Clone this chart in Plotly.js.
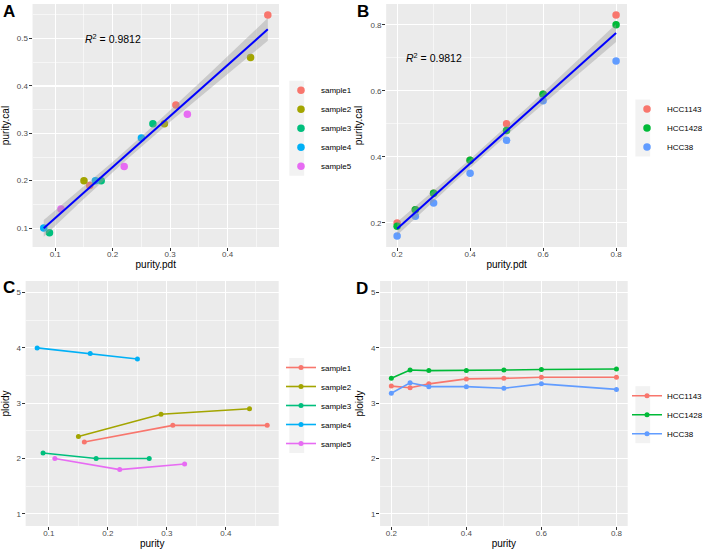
<!DOCTYPE html>
<html>
<head>
<meta charset="utf-8">
<script src="https://cdn.plot.ly/plotly-3.0.1.min.js"></script>
<style>html,body{margin:0;padding:0;background:#fff;}#chart{width:708px;height:550px;}</style>
</head>
<body>
<div id="chart"></div>
<script>
// ---------- Panel A / C data (samples) ----------
var sampleNames = ["sample1", "sample2", "sample3", "sample4", "sample5"];
var samplePurityPdt = [
  [0.16, 0.31, 0.47],
  [0.15, 0.29, 0.44],
  [0.09, 0.18, 0.27],
  [0.08, 0.17, 0.25],
  [0.11, 0.22, 0.33]
];
var samplePurityCal = [
  [0.19, 0.36, 0.55],
  [0.20, 0.32, 0.46],
  [0.09, 0.20, 0.32],
  [0.10, 0.20, 0.29],
  [0.14, 0.23, 0.34]
];
var samplePloidy = [
  [2.3, 2.6, 2.6],
  [2.4, 2.8, 2.9],
  [2.1, 2.0, 2.0],
  [4.0, 3.9, 3.8],
  [2.0, 1.8, 1.9]
];
var sampleColors = ["#F8766D", "#A3A500", "#00BF7D", "#00B0F6", "#E76BF3"];

// ---------- Panel B / D data (cell lines) ----------
var cellNames = ["HCC1143", "HCC1428", "HCC38"];
var cellPurityPdt = [0.2, 0.25, 0.3, 0.4, 0.5, 0.6, 0.8];
var cellPurityCal = [
  [0.20, 0.24, 0.29, 0.39, 0.50, 0.59, 0.83],
  [0.19, 0.24, 0.29, 0.39, 0.48, 0.59, 0.80],
  [0.16, 0.22, 0.26, 0.35, 0.45, 0.57, 0.69]
];
var cellPloidy = [
  [3.31, 3.28, 3.35, 3.44, 3.45, 3.47, 3.47],
  [3.45, 3.60, 3.59, 3.59, 3.60, 3.61, 3.62],
  [3.18, 3.37, 3.30, 3.30, 3.27, 3.35, 3.25]
];
var cellColors = ["#F8766D", "#00BA38", "#619CFF"];

var r2Label = "<i>R</i><sup>2</sup> = 0.9812";
var panelLabels = ["A", "B", "C", "D"];

// ---------- linear model with 95% CI (like geom_smooth(method = "lm")) ----------
function lmFit(xs, ys, tval) {
  var n = xs.length, mx = 0, my = 0;
  for (var i = 0; i < n; i++) { mx += xs[i]; my += ys[i]; }
  mx /= n; my /= n;
  var sxx = 0, sxy = 0;
  for (i = 0; i < n; i++) { sxx += (xs[i]-mx)*(xs[i]-mx); sxy += (xs[i]-mx)*(ys[i]-my); }
  var b = sxy / sxx, a = my - b * mx, sse = 0;
  for (i = 0; i < n; i++) { var r = ys[i] - (a + b*xs[i]); sse += r*r; }
  var s = Math.sqrt(sse / (n - 2));
  var xmin = Math.min.apply(null, xs), xmax = Math.max.apply(null, xs);
  var gx = [], gy = [], lo = [], hi = [];
  for (i = 0; i < 80; i++) {
    var x = xmin + (xmax - xmin) * i / 79;
    var yh = a + b * x;
    var se = s * Math.sqrt(1/n + (x-mx)*(x-mx)/sxx);
    gx.push(x); gy.push(yh); lo.push(yh - tval*se); hi.push(yh + tval*se);
  }
  return {x: gx, y: gy, lo: lo, hi: hi};
}
function flat(arr) { return [].concat.apply([], arr); }
function smoothTraces(xs, ys, tval, xa, ya) {
  var f = lmFit(xs, ys, tval);
  return [
    {x: f.x.concat(f.x.slice().reverse()), y: f.hi.concat(f.lo.slice().reverse()),
     xaxis: xa, yaxis: ya, mode: "lines", fill: "toself", fillcolor: "rgba(153,153,153,0.4)",
     line: {width: 0}, showlegend: false, hoverinfo: "skip"},
    {x: f.x, y: f.y, xaxis: xa, yaxis: ya, mode: "lines", line: {color: "#0000FF", width: 2},
     showlegend: false, hoverinfo: "skip"}
  ];
}

var traces = [];
// Panel A points
sampleNames.forEach(function(nm, i) {
  traces.push({x: samplePurityPdt[i], y: samplePurityCal[i], name: nm, xaxis: "x", yaxis: "y",
    mode: "markers", type: "scatter", marker: {color: sampleColors[i], size: 7.5}, legend: "legend"});
});
traces = traces.concat(smoothTraces(flat(samplePurityPdt), flat(samplePurityCal), 2.160, "x", "y"));
// Panel B points
cellNames.forEach(function(nm, i) {
  traces.push({x: cellPurityPdt, y: cellPurityCal[i], name: nm, xaxis: "x2", yaxis: "y2",
    mode: "markers", type: "scatter", marker: {color: cellColors[i], size: 7.5}, legend: "legend2"});
});
var bx = [], by = [];
cellNames.forEach(function(nm, i) { bx = bx.concat(cellPurityPdt); by = by.concat(cellPurityCal[i]); });
traces = traces.concat(smoothTraces(bx, by, 2.093, "x2", "y2"));
// Panel C lines
sampleNames.forEach(function(nm, i) {
  traces.push({x: samplePurityPdt[i], y: samplePloidy[i], name: nm, xaxis: "x3", yaxis: "y3",
    mode: "lines+markers", type: "scatter", line: {color: sampleColors[i], width: 1.6},
    marker: {color: sampleColors[i], size: 5}, legend: "legend3"});
});
// Panel D lines
cellNames.forEach(function(nm, i) {
  traces.push({x: cellPurityPdt, y: cellPloidy[i], name: nm, xaxis: "x4", yaxis: "y4",
    mode: "lines+markers", type: "scatter", line: {color: cellColors[i], width: 1.6},
    marker: {color: cellColors[i], size: 5}, legend: "legend4"});
});

var FONT = "Liberation Sans, Arial, sans-serif";
var tickFont = {family: FONT, size: 8, color: "#4D4D4D"};
var titleFont = {family: FONT, size: 10, color: "#000000"};
function ax(domain, range, dtick, tick0, minorDtick, title, anchor, standoff, isX) {
  return {
    domain: domain, range: range, dtick: dtick, tick0: tick0, tickmode: "linear",
    showgrid: true, gridcolor: "#FFFFFF", gridwidth: 1.1, zeroline: false, showline: false,
    ticks: "outside", ticklen: 3, tickwidth: 1, tickcolor: "#333333",
    ticklabelstandoff: isX ? -4 : -1,
    tickfont: tickFont, anchor: anchor, automargin: false,
    minor: {dtick: minorDtick, tick0: tick0, showgrid: true, gridcolor: "#FFFFFF", gridwidth: 0.55, ticks: ""},
    title: {text: title, font: titleFont, standoff: standoff}
  };
}
var legFont = {family: FONT, size: 8, color: "#000000"};
function leg(x, y) {
  return {x: x, y: y, xanchor: "left", yanchor: "middle", xref: "paper", yref: "paper",
    bgcolor: "rgba(0,0,0,0)", font: legFont, itemwidth: 30, tracegroupgap: 0};
}

var annotations = [
  {xref: "x", yref: "y", x: 0.2, y: 0.5, text: r2Label, showarrow: false,
   font: {family: FONT, size: 10.5, color: "#000"}},
  {xref: "x2", yref: "y2", x: 0.3, y: 0.7, text: r2Label, showarrow: false,
   font: {family: FONT, size: 10.5, color: "#000"}}
];
var labelPos = [[1/708, 1 - 0/550], [360/708, 1 - 0/550], [1/708, 1 - 276/550], [359/708, 1 - 277/550]];
panelLabels.forEach(function(t, i) {
  annotations.push({xref: "paper", yref: "paper", x: labelPos[i][0], y: labelPos[i][1],
    xanchor: "left", yanchor: "top", text: "<b>" + t + "</b>", showarrow: false,
    font: {family: FONT, size: 17, color: "#000"}});
});

// grey legend-key backgrounds (ggplot legend.key)
function keyBg(cx, cy, n) {
  return {type: "rect", xref: "paper", yref: "paper", layer: "below",
    x0: (cx - 7.5)/708, x1: (cx + 7.5)/708,
    y0: 1 - (cy + n*19/2)/550, y1: 1 - (cy - n*19/2)/550,
    fillcolor: "#F2F2F2", line: {width: 0}};
}

var layout = {
  width: 708, height: 550, margin: {l: 0, r: 0, t: 0, b: 0},
  paper_bgcolor: "#FFFFFF", plot_bgcolor: "#EBEBEB",
  font: {family: FONT},
  xaxis:  ax([33/708, 283/708], [0.0605, 0.4895], 0.1, 0.1, 0.05, "purity.pdt", "y", 3, true),
  yaxis:  ax([1-247/550, 1-4/550], [0.06, 0.573], 0.1, 0.1, 0.05, "purity.cal", "x", 5, false),
  xaxis2: ax([391.7/708, 636/708], [0.17, 0.83], 0.2, 0.2, 0.1, "purity.pdt", "y2", 3, true),
  yaxis2: ax([1-247/550, 1-4/550], [0.127, 0.863], 0.2, 0.2, 0.1, "purity.cal", "x2", 5, false),
  xaxis3: ax([26/708, 282.7/708], [0.0605, 0.4895], 0.1, 0.1, 0.05, "purity", "y3", 3, true),
  yaxis3: ax([1-526/550, 1-281/550], [0.78, 5.21], 1, 1, 0.5, "ploidy", "x3", 5, false),
  xaxis4: ax([385.5/708, 636.7/708], [0.17, 0.83], 0.2, 0.2, 0.1, "purity", "y4", 3, true),
  yaxis4: ax([1-526/550, 1-281/550], [0.78, 5.21], 1, 1, 0.5, "ploidy", "x4", 5, false),
  legend:  leg(285/708, 1 - 128.3/550),
  legend2: leg(636/708, 1 - 128/550),
  legend3: leg(285/708, 1 - 405.5/550),
  legend4: leg(636/708, 1 - 414.7/550),
  shapes: [keyBg(301, 128.3, 5), keyBg(652, 128, 3), keyBg(301, 405.5, 5), keyBg(652, 414.7, 3)],
  annotations: annotations,
  showlegend: true
};

Plotly.newPlot("chart", traces, layout, {staticPlot: true, displayModeBar: false});
</script>
</body>
</html>
